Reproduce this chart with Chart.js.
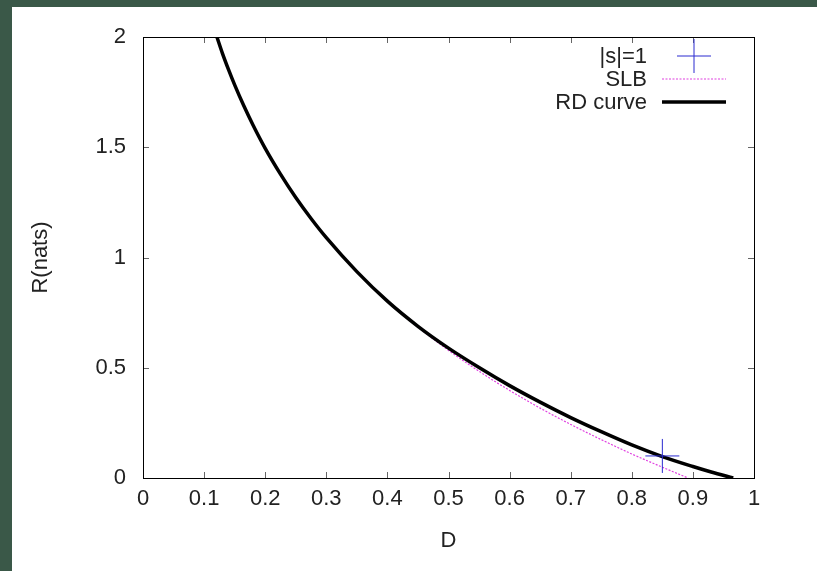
<!DOCTYPE html>
<html>
<head>
<meta charset="utf-8">
<script src="https://cdn.jsdelivr.net/npm/chart.js@4/dist/chart.umd.min.js"></script>
<style>
  html, body { margin: 0; padding: 0; }
  body { background: #3a5848; width: 817px; height: 571px; overflow: hidden; position: relative; }
  #wrap { position: absolute; left: 12px; top: 7px; width: 805px; height: 564px; background: #fff; }
  canvas { display: block; }
</style>
</head>
<body>
<div id="wrap"><canvas id="rd" width="805" height="564"></canvas></div>
<script>
// ── DATA ───────────────────────────────────────────────────────
const rdD  = [0.121, 0.13, 0.14, 0.15, 0.165, 0.18, 0.2, 0.225, 0.25, 0.275, 0.3, 0.35, 0.4, 0.45, 0.5, 0.55, 0.6, 0.65, 0.7, 0.75, 0.8, 0.85, 0.9, 0.93, 0.966];
const rdR  = [2.0, 1.926, 1.852, 1.783, 1.688, 1.601, 1.495, 1.378, 1.272, 1.177, 1.09, 0.936, 0.802, 0.688, 0.589, 0.501, 0.419, 0.344, 0.274, 0.21, 0.15, 0.097, 0.052, 0.027, 0];
const slbD = [0.121, 0.13, 0.14, 0.15, 0.165, 0.18, 0.2, 0.225, 0.25, 0.275, 0.3, 0.35, 0.4, 0.45, 0.5, 0.55, 0.6, 0.65, 0.7, 0.75, 0.8, 0.85, 0.892];
const slbR = [2.0, 1.926, 1.852, 1.783, 1.688, 1.601, 1.495, 1.378, 1.272, 1.177, 1.09, 0.936, 0.802, 0.685, 0.579, 0.484, 0.397, 0.317, 0.243, 0.174, 0.109, 0.049, 0];
const s1D  = [0.85];
const s1R  = [0.1];
const xTicks = [0, 0.1, 0.2, 0.3, 0.4, 0.5, 0.6, 0.7, 0.8, 0.9, 1];
const yTicks = [0, 0.5, 1, 1.5, 2];

const FONT = { family: "'Liberation Sans', Arial, sans-serif", size: 22 };
const TEXT = '#222';

const pts = (xs, ys) => xs.map((x, i) => ({ x, y: ys[i] }));
const fmtTick = v => String(+Number(v).toFixed(2));

// ── gnuplot-style frame with inward ticks ──────────────────────
const framePlugin = {
  id: 'frame',
  afterDatasetsDraw(chart) {
    const { ctx, chartArea: a, scales: { x, y } } = chart;
    const len = 6;
    ctx.save();
    ctx.strokeStyle = '#666';
    ctx.lineWidth = 1;
    ctx.beginPath();
    xTicks.forEach(v => {
      const px = Math.round(x.getPixelForValue(v)) + 0.5;
      ctx.moveTo(px, a.bottom); ctx.lineTo(px, a.bottom - len);
      ctx.moveTo(px, a.top); ctx.lineTo(px, a.top + len);
    });
    yTicks.forEach(v => {
      const py = Math.round(y.getPixelForValue(v)) + 0.5;
      ctx.moveTo(a.left, py); ctx.lineTo(a.left + len, py);
      ctx.moveTo(a.right, py); ctx.lineTo(a.right - len, py);
    });
    ctx.stroke();
    ctx.strokeStyle = '#000';
    ctx.strokeRect(a.left + 0.5, a.top + 0.5, a.right - a.left, a.bottom - a.top);
    ctx.restore();
  }
};

// ── key: text first, sample after (gnuplot layout) ─────────────
const keyPlugin = {
  id: 'key',
  afterDraw(chart) {
    const { ctx, chartArea: a } = chart;
    const textX = a.right - 107;
    const sampleX = a.right - 60;
    const half = 32;
    const rows = [a.top + 19, a.top + 42, a.top + 65];
    const order = [0, 2, 1]; // |s|=1, SLB, RD curve
    ctx.save();
    ctx.font = `${FONT.size}px ${FONT.family}`;
    ctx.fillStyle = TEXT;
    ctx.textAlign = 'right';
    ctx.textBaseline = 'middle';
    order.forEach((di, row) => {
      const ds = chart.data.datasets[di];
      const yy = rows[row];
      ctx.fillText(ds.label, textX, yy + 1);
      ctx.strokeStyle = ds.borderColor;
      ctx.lineWidth = ds.borderWidth;
      ctx.setLineDash(ds.borderDash || []);
      ctx.beginPath();
      if (ds.showLine === false) {
        const r = ds.pointRadius;
        ctx.moveTo(sampleX - r, yy); ctx.lineTo(sampleX + r, yy);
        ctx.moveTo(sampleX, yy - r); ctx.lineTo(sampleX, yy + r);
      } else {
        ctx.moveTo(sampleX - half, yy); ctx.lineTo(sampleX + half, yy);
      }
      ctx.stroke();
    });
    ctx.restore();
  }
};

new Chart(document.getElementById('rd'), {
  type: 'scatter',
  data: {
    datasets: [
      {
        label: '|s|=1',
        data: pts(s1D, s1R),
        showLine: false,
        pointStyle: 'cross',
        pointRadius: 17,
        pointBorderWidth: 1,
        borderWidth: 1,
        borderColor: '#2a2ad0',
        pointBorderColor: '#2a2ad0',
      },
      {
        label: 'RD curve',
        data: pts(rdD, rdR),
        showLine: true,
        borderColor: '#000',
        borderWidth: 3.5,
        pointRadius: 0,
        cubicInterpolationMode: 'monotone',
      },
      {
        label: 'SLB',
        data: pts(slbD, slbR),
        showLine: true,
        borderColor: '#e040e0',
        borderWidth: 1.2,
        borderDash: [2, 1.5],
        pointRadius: 0,
        cubicInterpolationMode: 'monotone',
      },
    ],
  },
  options: {
    responsive: false,
    animation: false,
    devicePixelRatio: 1,
    layout: { padding: { top: 30, right: 63, left: 0, bottom: 0 } },
    scales: {
      x: {
        type: 'linear',
        min: 0, max: 1,
        afterFit: s => { s.height = 93; },
        afterBuildTicks: s => { s.ticks = xTicks.map(v => ({ value: v })); },
        grid: { display: false },
        border: { display: false },
        ticks: { font: FONT, color: TEXT, padding: 0, maxRotation: 0, callback: fmtTick },
        title: { display: true, text: 'D', font: FONT, color: TEXT, padding: { top: 0, bottom: 17 } },
      },
      y: {
        type: 'linear',
        min: 0, max: 2,
        afterFit: s => { s.width = 131; },
        afterBuildTicks: s => { s.ticks = yTicks.map(v => ({ value: v })); },
        grid: { display: false },
        border: { display: false },
        ticks: { font: FONT, color: TEXT, padding: 9, callback: fmtTick },
        title: { display: true, text: 'R(nats)', font: FONT, color: TEXT, padding: { top: 16, bottom: 0 } },
      },
    },
    plugins: {
      legend: { display: false },
      tooltip: { enabled: false },
    },
  },
  plugins: [framePlugin, keyPlugin],
});
</script>
</body>
</html>
